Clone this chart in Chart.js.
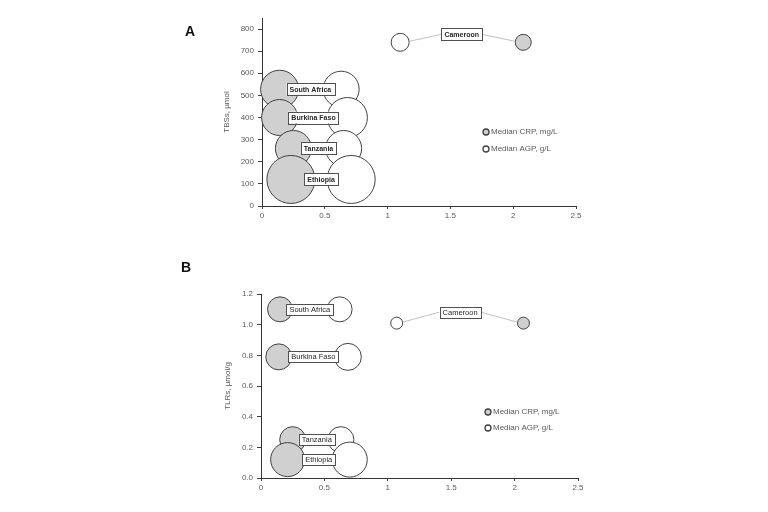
<!DOCTYPE html>
<html>
<head>
<meta charset="utf-8">
<script src="https://cdn.jsdelivr.net/npm/chart.js@4.4.1/dist/chart.umd.min.js"></script>
<style>
  body { margin: 0; background: #fff; }
  #wrap { position: relative; width: 768px; height: 512px; }
  canvas { position: absolute; left: 0; }
  #chartA { top: 0; }
  #chartB { top: 256px; }
  .panel { position: absolute; font: bold 14px "Liberation Sans", Arial, sans-serif; color: #111; }
</style>
</head>
<body>
<div id="wrap">
  <canvas id="chartA" width="768" height="256"></canvas>
  <canvas id="chartB" width="768" height="256"></canvas>
  <div class="panel" style="left:185px; top:23px;">A</div>
  <div class="panel" style="left:181px; top:259px;">B</div>
</div>
<script>
// countries, same order in every array
const countries = ['South Africa', 'Burkina Faso', 'Tanzania', 'Ethiopia', 'Cameroon'];

// panel A: TBSs, umol
const tbsValues = [528, 400, 260, 120, 740];
const crpXA = [0.14, 0.14, 0.25, 0.23, 2.08];
const agpXA = [0.63, 0.68, 0.65, 0.71, 1.10];
const crpSizeA = [19, 18, 18, 24, 8];
const agpSizeA = [18, 20, 18, 24, 9];

// panel B: TLRs, umol/g
const tlrValues = [1.10, 0.79, 0.25, 0.12, 1.01];
const crpXB = [0.15, 0.14, 0.25, 0.21, 2.07];
const agpXB = [0.62, 0.685, 0.63, 0.70, 1.07];
const crpSizeB = [12.5, 13, 13, 17, 6];
const agpSizeB = [12.5, 13.5, 13, 17.5, 6];

const legendLabels = ['Median CRP, mg/L', 'Median AGP, g/L'];

const grey = '#d0d0d0';
const edge = '#404040';
const txt = '#595959';

function points(xs, ys, rs) {
  return xs.map((x, i) => ({ x: x, y: ys[i], r: rs[i] }));
}

const countryLabels = {
  id: 'countryLabels',
  afterDatasetsDraw(chart, args, o) {
    const ctx = chart.ctx;
    const x = chart.scales.x, y = chart.scales.y;
    ctx.save();
    ctx.font = o.font;
    ctx.textAlign = 'center';
    ctx.textBaseline = 'middle';
    countries.forEach((name, i) => {
      const xc = x.getPixelForValue(o.crp[i]);
      const xa = x.getPixelForValue(o.agp[i]);
      let cy = y.getPixelForValue(o.yv[i]);
      const cx = (xc + xa) / 2;
      const lifted = i === countries.length - 1;
      if (lifted) cy -= o.lift;
      const w = ctx.measureText(name).width + 6;
      const h = o.boxH;
      if (lifted) {
        ctx.strokeStyle = '#c0c0c0';
        ctx.lineWidth = 1;
        const by = y.getPixelForValue(o.yv[i]);
        const left = Math.min(xc, xa), right = Math.max(xc, xa);
        const rl = xc < xa ? o.crpR[i] : o.agpR[i];
        const rr = xc < xa ? o.agpR[i] : o.crpR[i];
        ctx.beginPath();
        ctx.moveTo(left + rl, by - 1);
        ctx.lineTo(cx - w / 2, cy);
        ctx.moveTo(cx + w / 2, cy);
        ctx.lineTo(right - rr, by - 1);
        ctx.stroke();
      }
      ctx.fillStyle = '#fff';
      ctx.fillRect(cx - w / 2, cy - h / 2, w, h);
      ctx.strokeStyle = '#505050';
      ctx.lineWidth = 1;
      ctx.strokeRect(Math.round(cx - w / 2) + 0.5, Math.round(cy - h / 2) + 0.5, Math.round(w), Math.round(h));
      ctx.fillStyle = '#262626';
      ctx.fillText(name, cx, cy + 0.5);
    });

    // legend
    const area = chart.chartArea;
    const lx = area.left + o.legendX, ly = area.top + o.legendY;
    ctx.font = o.legendFont;
    ctx.textAlign = 'left';
    [grey, '#fff'].forEach((fill, k) => {
      const yy = ly + k * o.legendGap;
      ctx.beginPath();
      ctx.arc(lx, yy, 3, 0, Math.PI * 2);
      ctx.fillStyle = fill;
      ctx.fill();
      ctx.strokeStyle = edge;
      ctx.lineWidth = 1.3;
      ctx.stroke();
      ctx.fillStyle = txt;
      ctx.fillText(legendLabels[k], lx + 5, yy);
    });
    ctx.restore();
  }
};

function makeChart(id, cfg) {
  return new Chart(document.getElementById(id), {
    type: 'bubble',
    data: {
      datasets: [
        { label: legendLabels[0], data: points(cfg.crp, cfg.yv, cfg.crpR),
          backgroundColor: grey, borderColor: edge, borderWidth: 1, clip: false },
        { label: legendLabels[1], data: points(cfg.agp, cfg.yv, cfg.agpR),
          backgroundColor: '#fff', borderColor: edge, borderWidth: 1, clip: false }
      ]
    },
    options: {
      responsive: false,
      animation: false,
      layout: { padding: cfg.padding, autoPadding: false },
      plugins: {
        legend: { display: false },
        tooltip: { enabled: false },
        countryLabels: cfg
      },
      elements: { point: { hoverRadius: 0 } },
      scales: {
        x: {
          type: 'linear', min: 0, max: 2.5,
          ticks: { stepSize: 0.5, color: txt, font: { size: 8, family: 'Liberation Sans' }, padding: 2,
                   callback: v => String(v) },
          grid: { display: true, drawOnChartArea: false, tickLength: 3, color: edge },
          border: { color: '#333', width: 1 },
          afterFit(s) { s.height = 20; }
        },
        y: {
          type: 'linear', min: 0, max: cfg.yMax,
          afterBuildTicks(s) { s.ticks = s.ticks.filter(t => t.value <= cfg.yTop + 1e-9); },
          ticks: { stepSize: cfg.yStep, color: txt, font: { size: 8, family: 'Liberation Sans' }, padding: 4,
                   callback: cfg.yFmt },
          grid: { display: true, drawOnChartArea: false, tickLength: 4, color: edge },
          border: { color: '#333', width: 1 },
          title: { display: true, text: cfg.yTitle, color: txt, font: { size: 8, family: 'Liberation Sans' },
                   padding: { top: 0, bottom: 0 } },
          afterFit(s) { s.width = cfg.yWidth; }
        }
      }
    },
    plugins: [countryLabels]
  });
}

makeChart('chartA', {
  crp: crpXA, agp: agpXA, yv: tbsValues, crpR: crpSizeA, agpR: agpSizeA,
  yMax: 850, yTop: 800, yStep: 100, yFmt: v => v, yTitle: 'TBSs, µmol',
  yWidth: 40, padding: { left: 222, right: 192, top: 18, bottom: 30 },
  font: 'bold 7px "Liberation Sans", Arial, sans-serif', boxH: 12, lift: 8,
  legendFont: '8px "Liberation Sans", Arial, sans-serif',
  legendX: 224, legendY: 114, legendGap: 17
});

makeChart('chartB', {
  crp: crpXB, agp: agpXB, yv: tlrValues, crpR: crpSizeB, agpR: agpSizeB,
  yMax: 1.2, yTop: 1.2, yStep: 0.2, yFmt: v => Number(v).toFixed(1), yTitle: 'TLRs, µmol/g',
  yWidth: 38, padding: { left: 223, right: 190, top: 38, bottom: 14 },
  font: '7.5px "Liberation Sans", Arial, sans-serif', boxH: 11, lift: 11,
  legendFont: '8px "Liberation Sans", Arial, sans-serif',
  legendX: 227, legendY: 118, legendGap: 16
});
</script>
</body>
</html>
